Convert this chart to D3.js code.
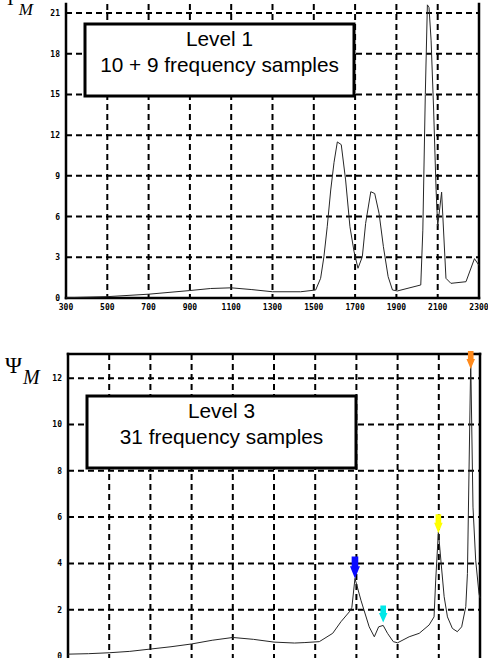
<!DOCTYPE html>
<html>
<head>
<meta charset="utf-8">
<script src="https://cdn.jsdelivr.net/npm/d3@7"></script>
<style>
body {margin: 0; background: #fff;}
.tick_label {font-family: "DejaVu Sans Mono", monospace; font-weight: bold; font-size: 8px; fill: #000;}
.box_text {font-family: "Liberation Sans", Arial, sans-serif; font-size: 20.8px; fill: #000;}
.psi {font-family: "Liberation Serif", "Times New Roman", serif; fill: #000;}
</style>
</head>
<body>
<svg id="chart" width="488" height="658"></svg>
<script>
// tick labels
var freq_ticks = [300, 500, 700, 900, 1100, 1300, 1500, 1700, 1900, 2100, 2300];
var psi_ticks_1 = [0, 3, 6, 9, 12, 15, 18, 21];
var psi_ticks_3 = [0, 2, 4, 6, 8, 10, 12];

// level 1 : 10 + 9 frequency samples
var level1_freq = [300, 500, 700, 900, 1000, 1100, 1200, 1300, 1436, 1509, 1533, 1549, 1565, 1582, 1598,
		   1614, 1633, 1654, 1675, 1695, 1714, 1735, 1751, 1776, 1795, 1816, 1837, 1860, 1881,
		   1905, 2018, 2028, 2040, 2050, 2058, 2068, 2080, 2092, 2100, 2119, 2140, 2164, 2237,
		   2278, 2300];
var level1_psi = [0.02, 0.1, 0.28, 0.55, 0.7, 0.75, 0.62, 0.46, 0.46, 0.59, 1.45, 3.04, 5.25, 7.96, 10.0,
		  11.5, 11.3, 8.7, 5.25, 3.41, 2.19, 3.04, 5.5, 7.83, 7.7, 6.24, 3.78, 1.57, 0.59,
		  0.52, 0.96, 5.0, 15.0, 21.6, 21.4, 19.0, 14.0, 8.0, 5.3, 7.8, 1.45, 1.08, 1.2,
		  2.9, 2.4];

// level 3 : 31 frequency samples
var level3_freq = [300, 400, 500, 600, 700, 800, 900, 1000, 1100, 1200, 1300, 1400, 1450, 1520, 1585,
		   1625, 1666, 1678, 1693, 1722, 1762, 1787, 1808, 1830, 1851, 1879, 1900, 1956, 2005,
		   2053, 2077, 2085, 2098, 2110, 2126, 2142, 2166, 2190, 2211, 2231, 2239, 2255, 2266,
		   2279, 2295, 2300];
var level3_psi = [0.08, 0.1, 0.14, 0.2, 0.3, 0.4, 0.52, 0.68, 0.8, 0.72, 0.6, 0.56, 0.58, 0.62, 0.98,
		  1.48, 1.91, 2.1, 3.35, 2.41, 1.26, 0.83, 1.26, 1.32, 0.98, 0.62, 0.57, 0.83, 0.98,
		  1.34, 1.69, 3.28, 5.36, 4.14, 2.56, 1.69, 1.19, 1.05, 1.26, 2.13, 3.56, 12.76, 6.43,
		  4.14, 2.7, 2.5];

// detected peaks on level 3
var peak_freq = [1693, 1830, 2098, 2255];
var peak_psi = [3.35, 1.45, 5.3, 12.4];

var peak_style = [{col: "#0a0aff", w: 10, h: 22},
		  {col: "#00e8e8", w: 8.5, h: 17},
		  {col: "#ffff00", w: 8.5, h: 19},
		  {col: "#ff8a1c", w: 8.5, h: 18}];

var draw_line = d3.line()
    .x(function(d) { return d.x; })
    .y(function(d) { return d.y; });

function zip(xs, ys) {
    return xs.map(function(x, i) { return {x: x, y: ys[i]}; });
}

function draw_panel(svg, p) {
    var scales = {
	x: d3.scaleLinear().domain([300, 2300]).range([p.left, p.right]),
	y: d3.scaleLinear().domain([0, p.ymax]).range([p.bottom, p.ytop])
    };
    var g = svg.append("g");

    // dashed grid
    g.selectAll(".hgrid")
	.data(p.yticks.filter(function(d) { return d > 0; }))
	.enter().append("path")
	.attr("d", function(d) {
	    return draw_line([{x: p.left, y: scales.y(d)}, {x: p.right, y: scales.y(d)}]);
	})
	.style("stroke", "#000")
	.style("stroke-width", 2)
	.style("stroke-dasharray", "6,4");
    g.selectAll(".vgrid")
	.data(freq_ticks.slice(1, -1))
	.enter().append("path")
	.attr("d", function(d) {
	    return draw_line([{x: scales.x(d), y: p.frame_top}, {x: scales.x(d), y: p.frame_bottom}]);
	})
	.style("stroke", "#000")
	.style("stroke-width", 2)
	.style("stroke-dasharray", "6,4");

    // frame
    var frame = [[p.left, p.frame_top, p.left, p.frame_bottom],
		 [p.right, p.frame_top, p.right, p.frame_bottom]];
    if (p.top_border) frame.push([p.left, p.frame_top, p.right, p.frame_top]);
    if (p.bottom_axis) frame.push([p.left, p.bottom, p.right, p.bottom]);
    g.selectAll(".frame")
	.data(frame)
	.enter().append("line")
	.attr("x1", function(d) { return d[0]; })
	.attr("y1", function(d) { return d[1]; })
	.attr("x2", function(d) { return d[2]; })
	.attr("y2", function(d) { return d[3]; })
	.style("stroke", "#000")
	.style("stroke-width", 2.5)
	.style("stroke-linecap", "square");

    // y tick labels
    g.selectAll(".ylab")
	.data(p.yticks)
	.enter().append("text")
	.attr("class", "tick_label")
	.attr("text-anchor", "end")
	.attr("x", p.left - 6)
	.attr("y", function(d) { return scales.y(d) + 3; })
	.text(function(d) { return d; });

    // x tick labels
    if (p.bottom_axis) {
	g.selectAll(".xlab")
	    .data(freq_ticks)
	    .enter().append("text")
	    .attr("class", "tick_label")
	    .attr("text-anchor", "middle")
	    .attr("x", function(d) { return scales.x(d); })
	    .attr("y", p.bottom + 12)
	    .text(function(d) { return d; });
    }

    // curve
    g.append("path")
	.attr("d", draw_line(zip(p.freq, p.psi).map(function(d) {
	    return {x: scales.x(d.x), y: scales.y(d.y)};
	})))
	.style("fill", "none")
	.style("stroke", "#262626")
	.style("stroke-width", 1)
	.style("stroke-linejoin", "round");

    // text box
    g.append("rect")
	.attr("x", p.box[0]).attr("y", p.box[1])
	.attr("width", p.box[2] - p.box[0]).attr("height", p.box[3] - p.box[1])
	.style("fill", "#fff")
	.style("stroke", "#000")
	.style("stroke-width", 3);
    g.selectAll(".box_text")
	.data(p.lines)
	.enter().append("text")
	.attr("class", "box_text")
	.attr("text-anchor", "middle")
	.attr("x", (p.box[0] + p.box[2]) / 2)
	.attr("y", function(d, i) { return p.box[1] + 21.5 + i * 26.5; })
	.text(function(d) { return d; });

    // Psi_M label
    var lab = g.append("text").attr("class", "psi")
	.attr("x", p.lab_x).attr("y", p.lab_y);
    lab.append("tspan").style("font-size", p.lab_size + "px").text("Ψ");
    lab.append("tspan")
	.style("font-size", p.m_size + "px")
	.style("font-style", "italic")
	.attr("dy", p.m_dy)
	.attr("dx", 1)
	.text("M");

    return scales;
}

var svg = d3.select("#chart");
svg.append("rect").attr("width", 488).attr("height", 658).style("fill", "#fff");

draw_panel(svg, {
    left: 66, right: 479, bottom: 298, ytop: 13, ymax: 21,
    frame_top: 4, frame_bottom: 298, top_border: false, bottom_axis: true,
    yticks: psi_ticks_1, freq: level1_freq, psi: level1_psi,
    box: [85, 24, 354, 96], lines: ["Level 1", "10 + 9 frequency samples"],
    lab_x: 3, lab_y: 5, lab_size: 20, m_size: 17, m_dy: 10
});

var sc3 = draw_panel(svg, {
    left: 68, right: 480, bottom: 656, ytop: 355, ymax: 13,
    frame_top: 354, frame_bottom: 660, top_border: true, bottom_axis: false,
    yticks: psi_ticks_3, freq: level3_freq, psi: level3_psi,
    box: [87, 396, 356, 468], lines: ["Level 3", "31 frequency samples"],
    lab_x: 5, lab_y: 373, lab_size: 23, m_size: 20, m_dy: 11
});

// peak markers
svg.selectAll(".peak")
    .data(zip(peak_freq, peak_psi))
    .enter().append("path")
    .attr("class", "peak")
    .attr("d", function(d, i) {
	var s = peak_style[i], w = s.w / 2, sw = s.w * 0.33, hh = s.h * 0.55;
	return "M" + (-sw) + "," + (-s.h) + "L" + sw + "," + (-s.h) + "L" + sw + "," + (-hh) +
	    "L" + w + "," + (-hh) + "L0,0L" + (-w) + "," + (-hh) + "L" + (-sw) + "," + (-hh) + "Z";
    })
    .attr("transform", function(d) {
	return "translate(" + sc3.x(d.x) + "," + sc3.y(d.y) + ")";
    })
    .style("fill", function(d, i) { return peak_style[i].col; });
</script>
</body>
</html>
